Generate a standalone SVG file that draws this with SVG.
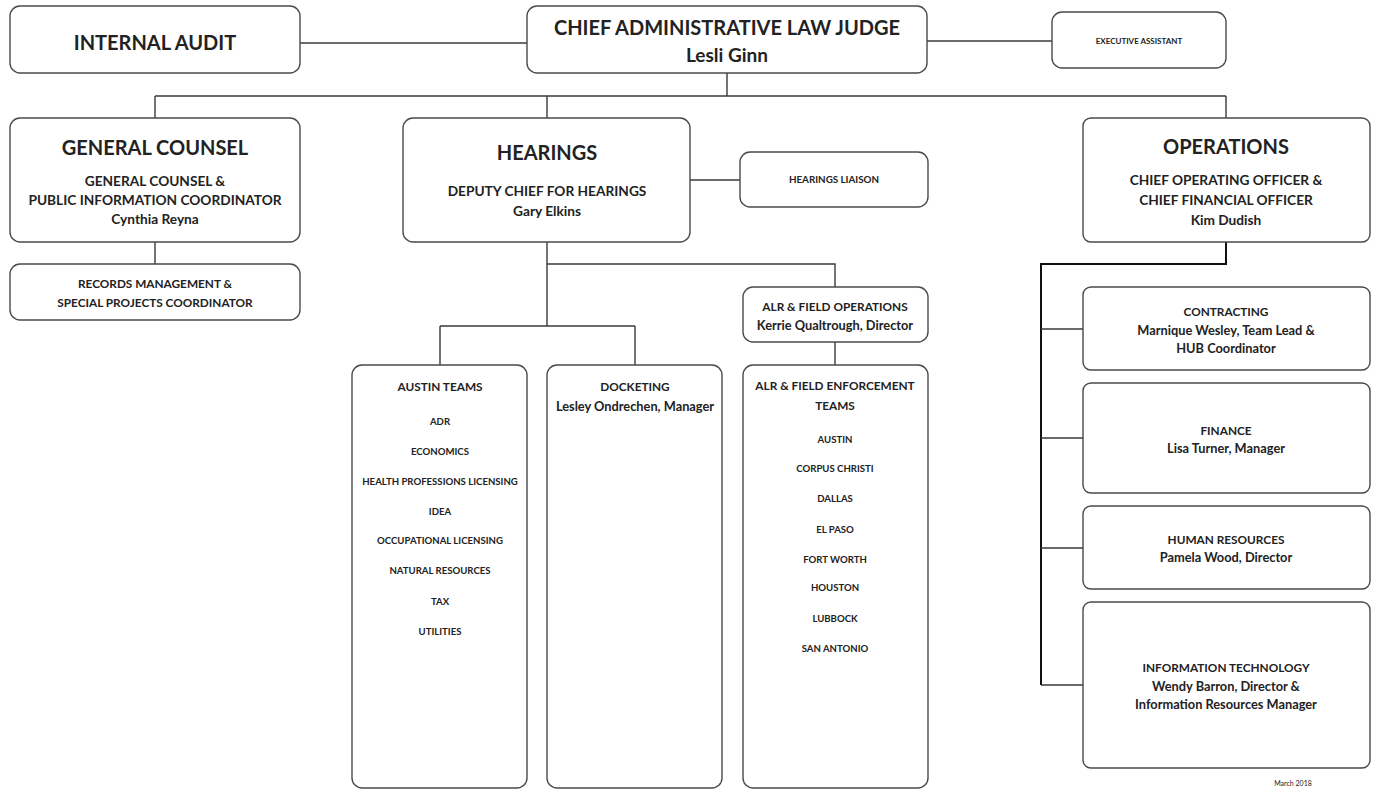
<svg xmlns="http://www.w3.org/2000/svg" width="1377" height="791" viewBox="0 0 1377 791">
<style>
.box{fill:#fff;stroke:#4a4a4a;stroke-width:1.4}
.ln{fill:none;stroke:#3a3a3a;stroke-width:1.4}
.lnb{fill:none;stroke:#111;stroke-width:2}
text{font-family:Lato,"Liberation Sans",sans-serif;font-weight:bold;fill:#222;text-anchor:middle}
.t1{font-size:20px}
.t2{font-size:13.7px}
.t3{font-size:11.8px}
.tm{font-size:12.8px}
.t4{font-size:9.6px}
</style>
<rect width="1377" height="791" fill="#fff"/>
<g id="connectors">
<path class="ln" d="M300 43H527"/>
<path class="ln" d="M927 41H1052"/>
<path class="ln" d="M727 73V96M155 96H1226M155 96V118M547 96V118M1226 96V118"/>
<path class="ln" d="M155 242V264"/>
<path class="ln" d="M690 180H740"/>
<path class="ln" d="M547 242V326M547 264H835V287M440 326H635M440 326V365M635 326V365"/>
<path class="ln" d="M835 342V365"/>
<path class="lnb" d="M1226 242V264H1041V685"/>
<path class="ln" d="M1041 329H1083M1041 438H1083M1041 548H1083M1041 685H1083"/>
</g>
<g id="internal-audit"><rect class="box" x="10" y="6" width="290" height="67" rx="10"/><text class="t1" x="155" y="50">INTERNAL AUDIT</text></g>
<g id="chief-alj"><rect class="box" x="527" y="6" width="400" height="67" rx="10"/><text class="t1" x="727" y="35">CHIEF ADMINISTRATIVE LAW JUDGE</text><text class="t1" x="727" y="62" style="font-size:19px">Lesli Ginn</text></g>
<g id="exec-assistant"><rect class="box" x="1052" y="12" width="174" height="56" rx="10"/><text x="1139" y="44" style="font-size:8px">EXECUTIVE ASSISTANT</text></g>
<g id="general-counsel"><rect class="box" x="10" y="118" width="290" height="124" rx="10"/><text class="t1" x="155" y="155">GENERAL COUNSEL</text><text class="t2" x="155" y="186">GENERAL COUNSEL &amp;</text><text class="t2" x="155" y="205">PUBLIC INFORMATION COORDINATOR</text><text class="t2" x="155" y="224">Cynthia Reyna</text></g>
<g id="records"><rect class="box" x="10" y="264" width="290" height="56" rx="10"/><text class="t3" x="155" y="288">RECORDS MANAGEMENT &amp;</text><text class="t3" x="155" y="307">SPECIAL PROJECTS COORDINATOR</text></g>
<g id="hearings"><rect class="box" x="403" y="118" width="287" height="124" rx="10"/><text class="t1" x="547" y="160">HEARINGS</text><text class="t2" x="547" y="196">DEPUTY CHIEF FOR HEARINGS</text><text class="t2" x="547" y="216">Gary Elkins</text></g>
<g id="hearings-liaison"><rect class="box" x="740" y="152" width="188" height="55" rx="10"/><text x="834" y="183" style="font-size:9.8px">HEARINGS LIAISON</text></g>
<g id="operations"><rect class="box" x="1083" y="118" width="287" height="124" rx="8"/><text class="t1" x="1226" y="154">OPERATIONS</text><text class="t2" x="1226" y="185">CHIEF OPERATING OFFICER &amp;</text><text class="t2" x="1226" y="205">CHIEF FINANCIAL OFFICER</text><text class="t2" x="1226" y="225">Kim Dudish</text></g>
<g id="alr-ops"><rect class="box" x="743" y="287" width="185" height="55" rx="10"/><text class="t3" x="835" y="311">ALR &amp; FIELD OPERATIONS</text><text class="tm" x="835" y="330">Kerrie Qualtrough, Director</text></g>
<g id="austin-teams"><rect class="box" x="352" y="365" width="175" height="423" rx="10"/><text class="t3" x="440" y="391">AUSTIN TEAMS</text>
<text class="t4" x="440" y="425">ADR</text><text class="t4" x="440" y="455">ECONOMICS</text><text class="t4" x="440" y="485">HEALTH PROFESSIONS LICENSING</text><text class="t4" x="440" y="515">IDEA</text><text class="t4" x="440" y="544">OCCUPATIONAL LICENSING</text><text class="t4" x="440" y="574">NATURAL RESOURCES</text><text class="t4" x="440" y="605">TAX</text><text class="t4" x="440" y="635">UTILITIES</text></g>
<g id="docketing"><rect class="box" x="547" y="365" width="175" height="423" rx="10"/><text class="t3" x="635" y="391">DOCKETING</text><text class="tm" x="635" y="411">Lesley Ondrechen, Manager</text></g>
<g id="alr-enforcement"><rect class="box" x="743" y="365" width="185" height="423" rx="10"/><text class="t3" x="835" y="390">ALR &amp; FIELD ENFORCEMENT</text><text class="t3" x="835" y="410">TEAMS</text>
<text class="t4" x="835" y="443">AUSTIN</text><text class="t4" x="835" y="472">CORPUS CHRISTI</text><text class="t4" x="835" y="502">DALLAS</text><text class="t4" x="835" y="533">EL PASO</text><text class="t4" x="835" y="563">FORT WORTH</text><text class="t4" x="835" y="591">HOUSTON</text><text class="t4" x="835" y="622">LUBBOCK</text><text class="t4" x="835" y="652">SAN ANTONIO</text></g>
<g id="contracting"><rect class="box" x="1083" y="287" width="287" height="83" rx="8"/><text class="t3" x="1226" y="316">CONTRACTING</text><text class="tm" x="1226" y="335">Marnique Wesley, Team Lead &amp;</text><text class="tm" x="1226" y="353">HUB Coordinator</text></g>
<g id="finance"><rect class="box" x="1083" y="383" width="287" height="110" rx="8"/><text class="t3" x="1226" y="435">FINANCE</text><text class="tm" x="1226" y="453">Lisa Turner, Manager</text></g>
<g id="human-resources"><rect class="box" x="1083" y="506" width="287" height="83" rx="8"/><text class="t3" x="1226" y="544">HUMAN RESOURCES</text><text class="tm" x="1226" y="562">Pamela Wood, Director</text></g>
<g id="information-technology"><rect class="box" x="1083" y="602" width="287" height="166" rx="8"/><text class="t3" x="1226" y="672">INFORMATION TECHNOLOGY</text><text class="tm" x="1226" y="691">Wendy Barron, Director &amp;</text><text class="tm" x="1226" y="709">Information Resources Manager</text></g>
<text x="1293" y="786" style="font-size:7px;font-weight:normal">March 2018</text>
</svg>
